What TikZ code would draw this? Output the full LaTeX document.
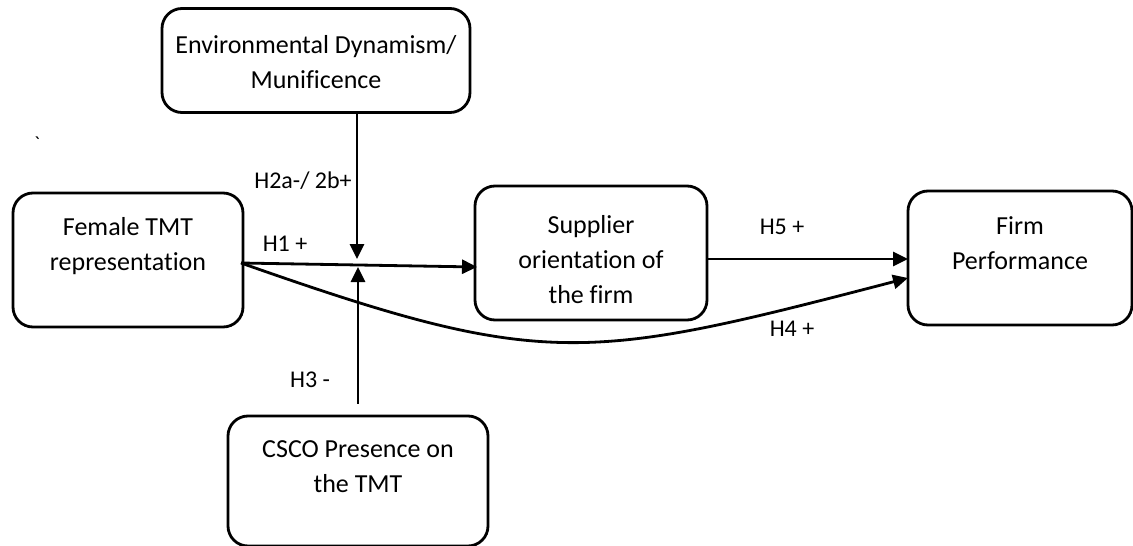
\documentclass[tikz,border=0pt]{standalone}
\usepackage{fontspec}
\setmainfont{Carlito}[Ligatures={NoCommon}]
\usetikzlibrary{arrows.meta}
\begin{document}
\begin{tikzpicture}[x=1pt,y=-1pt,
  box/.style={draw, line width=2.8pt, rounded corners=20pt, inner sep=0pt},
  txt/.style={align=center, inner sep=0pt, font=\fontsize{26}{35}\selectfont},
  lbl/.style={inner sep=0pt, font=\fontsize{24}{28}\selectfont},
  arr/.style={line width=2.8pt, -{Triangle[length=15pt,width=14pt]}}]
\useasboundingbox (0,0) rectangle (1133,546);
% boxes
\node[box, minimum width=308pt, minimum height=104pt] (env) at (316,60.5) {};
\node[box, minimum width=230pt, minimum height=134pt] (fem) at (128,260) {};
\node[box, minimum width=232pt, minimum height=134pt] (sup) at (591,253) {};
\node[box, minimum width=224pt, minimum height=134pt] (firm) at (1020,258) {};
\node[box, minimum width=260pt, minimum height=130pt] (csco) at (358,481) {};
% box texts
\node[txt] (envT) at (316,62) {Environmental Dynamism/\\Munificence};
\node[txt] (femT) at (128,246) {Female TMT\\representation};
\node[txt] (supT) at (591,260) {Supplier\\orientation of\\the firm};
\node[txt] (firmT) at (1020,243) {Firm\\Performance};
\node[txt] (cscoT) at (358,467) {CSCO Presence on\\the TMT};
% connector points
\coordinate (fs) at (241,263);
\coordinate (se) at (477,267);
\coordinate (md) at (357,259);
\coordinate (mu) at (358,267);
\coordinate (f5) at (908,259);
\coordinate (f4) at (908,278);
% connectors
\draw[arr] (fs) -- (se);
\draw[arr] (env.south -| md) -- (md);
\draw[arr] ([yshift=11pt]csco.north) -- (mu);
\draw[arr] (sup.east |- f5) -- (f5);
\draw[arr] (fs) .. controls (545,370) and (585,362) .. (f4);
% labels
\node[lbl] (h2) at (303,181) {H2a-/ 2b+};
\node[lbl] (h1) at (285,244) {H1 +};
\node[lbl] (h5) at (782,227) {H5 +};
\node[lbl] (h4) at (792,329) {H4 +};
\node[lbl] (h3) at (310,380) {H3 -};
\node[inner sep=0pt, font=\fontsize{20}{22}\selectfont] (tick) at (37,144) {\textasciigrave};
\end{tikzpicture}
\end{document}
